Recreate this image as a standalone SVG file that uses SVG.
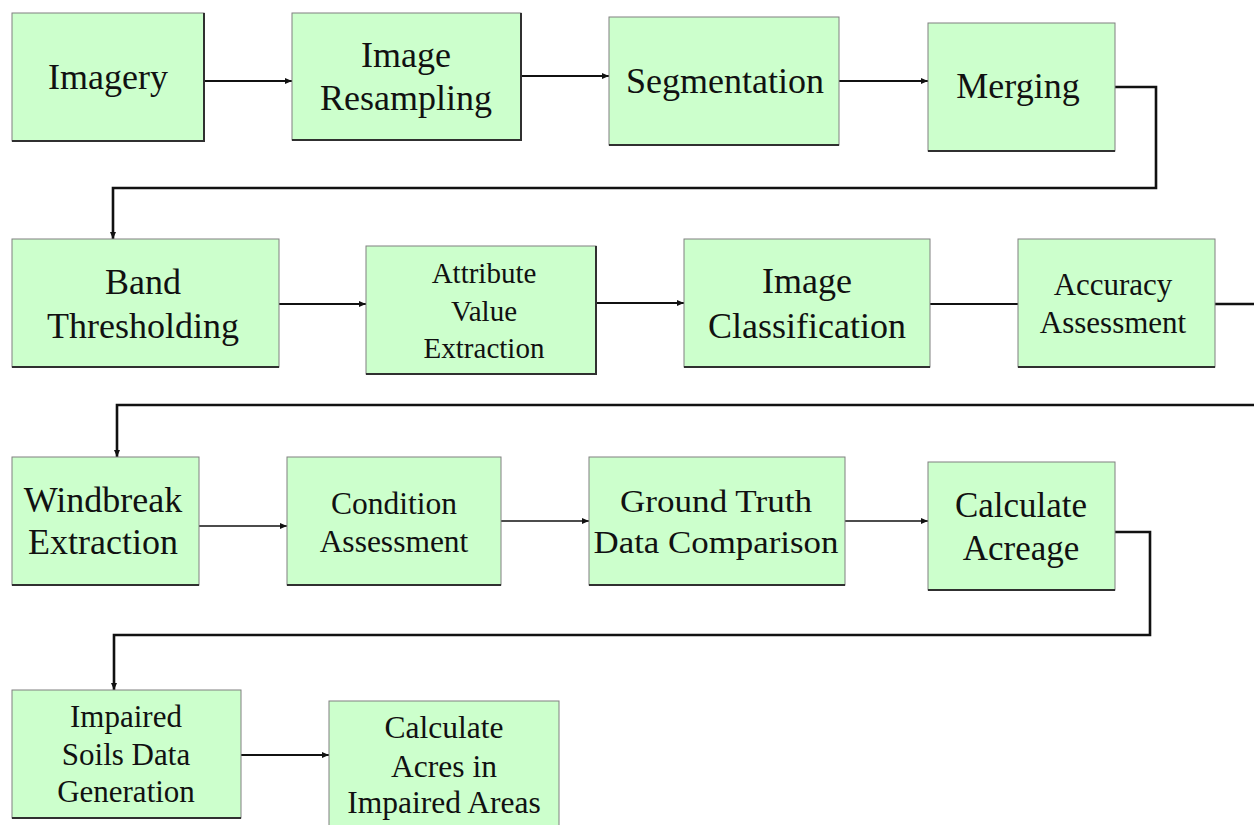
<svg xmlns="http://www.w3.org/2000/svg" width="1254" height="825" viewBox="0 0 1254 825">
<defs>
<style>
.box rect{fill:#CCFFCC;stroke:#808080;stroke-width:1}
.box path{fill:none;stroke:#303030;stroke-width:2}
text{font-family:"Liberation Serif","Times New Roman",serif;fill:#111;text-anchor:middle}
.c{fill:none;stroke:#111;stroke-width:2}
.thin{stroke-width:1.3}
.thick{stroke-width:2.6}
</style>
<marker id="ah" markerUnits="userSpaceOnUse" markerWidth="8" markerHeight="7" refX="7" refY="3" orient="auto">
<path d="M0,0 L7,3 L0,6 z" fill="#111"/>
</marker>
</defs>
<rect width="1254" height="825" fill="#fff"/>

<g id="connectors">
<path class="c" d="M204,81 H292" marker-end="url(#ah)"/>
<path class="c" d="M521,76 H609" marker-end="url(#ah)"/>
<path class="c" d="M839,81 H928" marker-end="url(#ah)"/>
<path class="c thick" d="M1115,87 H1156 V188 H113 V239" marker-end="url(#ah)"/>
<path class="c" d="M279,304 H366" marker-end="url(#ah)"/>
<path class="c" d="M596,303 H684" marker-end="url(#ah)"/>
<path class="c" d="M930,304 H1018"/>
<path class="c thick" d="M1215,304 H1264 V405 H117 V457" marker-end="url(#ah)"/>
<path class="c thin" d="M199,526 H287" marker-end="url(#ah)"/>
<path class="c thin" d="M501,521 H589" marker-end="url(#ah)"/>
<path class="c thin" d="M845,521 H928" marker-end="url(#ah)"/>
<path class="c thick" d="M1115,532 H1150 V635 H114 V690" marker-end="url(#ah)"/>
<path class="c" d="M241,755 H329" marker-end="url(#ah)"/>
</g>

<g id="imagery" class="box">
<rect x="12" y="13" width="192" height="128"/><path d="M12,141 H204 V13"/>
<text x="108" y="89" font-size="36">Imagery</text>
</g>
<g id="resampling" class="box">
<rect x="292" y="13" width="229" height="127"/><path d="M292,140 H521 V13"/>
<text x="406" y="67" font-size="36">Image</text>
<text x="406" y="110" font-size="36">Resampling</text>
</g>
<g id="segmentation" class="box">
<rect x="609" y="17" width="230" height="128"/><path d="M609,145 H839"/>
<text x="725" y="93" font-size="36">Segmentation</text>
</g>
<g id="merging" class="box">
<rect x="928" y="23" width="187" height="128"/><path d="M928,151 H1115"/>
<text x="1018" y="98" font-size="36">Merging</text>
</g>

<g id="band" class="box">
<rect x="12" y="239" width="267" height="128"/><path d="M12,367 H279"/>
<text x="143" y="294" font-size="36">Band</text>
<text x="143" y="338" font-size="36">Thresholding</text>
</g>
<g id="attribute" class="box">
<rect x="366" y="246" width="230" height="128"/><path d="M366,374 H596 V246"/>
<text x="484" y="283" font-size="29">Attribute</text>
<text x="484" y="321" font-size="29">Value</text>
<text x="484" y="358" font-size="29">Extraction</text>
</g>
<g id="classification" class="box">
<rect x="684" y="239" width="246" height="128"/><path d="M684,367 H930"/>
<text x="807" y="293" font-size="36">Image</text>
<text x="807" y="338" font-size="36">Classification</text>
</g>
<g id="accuracy" class="box">
<rect x="1018" y="239" width="197" height="128"/><path d="M1018,367 H1215"/>
<text x="1113" y="295" font-size="31">Accuracy</text>
<text x="1113" y="333" font-size="31">Assessment</text>
</g>

<g id="windbreak" class="box">
<rect x="12" y="457" width="187" height="128"/><path d="M12,585 H199"/>
<text x="103" y="512" font-size="36">Windbreak</text>
<text x="103" y="554" font-size="36">Extraction</text>
</g>
<g id="condition" class="box">
<rect x="287" y="457" width="214" height="128"/><path d="M287,585 H501"/>
<text x="394" y="514" font-size="31.5">Condition</text>
<text x="394" y="552" font-size="31.5">Assessment</text>
</g>
<g id="groundtruth" class="box">
<rect x="589" y="457" width="256" height="128"/><path d="M589,585 H845"/>
<text x="716" y="512" font-size="31" textLength="192" lengthAdjust="spacingAndGlyphs">Ground Truth</text>
<text x="716" y="553" font-size="31" textLength="245" lengthAdjust="spacingAndGlyphs">Data Comparison</text>
</g>
<g id="acreage" class="box">
<rect x="928" y="462" width="187" height="128"/><path d="M928,590 H1115"/>
<text x="1021" y="517" font-size="35">Calculate</text>
<text x="1021" y="560" font-size="35">Acreage</text>
</g>

<g id="impaired" class="box">
<rect x="12" y="690" width="229" height="128"/><path d="M12,818 H241"/>
<text x="126" y="727" font-size="31">Impaired</text>
<text x="126" y="765" font-size="31">Soils Data</text>
<text x="126" y="802" font-size="31">Generation</text>
</g>
<g id="acres" class="box">
<rect x="329" y="701" width="230" height="128"/>
<text x="444" y="738" font-size="31.5">Calculate</text>
<text x="444" y="777" font-size="31.5">Acres in</text>
<text x="444" y="813" font-size="31.5">Impaired Areas</text>
</g>
</svg>
